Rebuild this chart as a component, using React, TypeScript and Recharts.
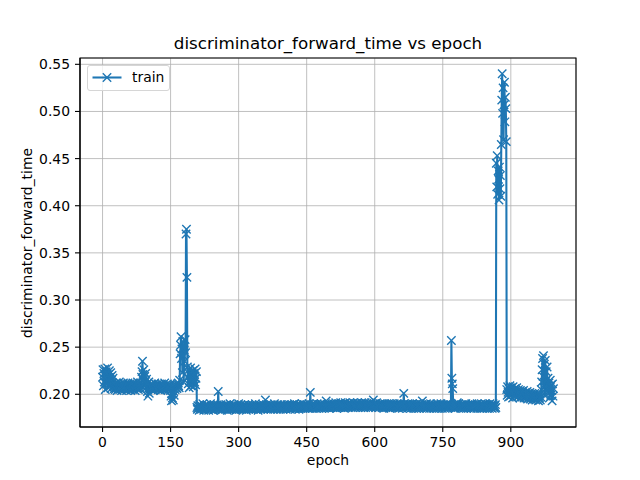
import { LineChart, Line, XAxis, YAxis, CartesianGrid, ReferenceArea } from "recharts";

// discriminator forward time per epoch in chunks
const warmup = [
  0.218, 0.226, 0.209, 0.222, 0.213, 0.227, 0.205, 0.219, 0.224, 0.211, 0.216, 0.228, 0.207,
  0.221, 0.214, 0.225, 0.21, 0.218, 0.223, 0.206, 0.215, 0.22, 0.212, 0.217, 0.209,
];
const earlyBand = [
  0.208, 0.206, 0.211, 0.205, 0.209, 0.207, 0.212, 0.204, 0.208, 0.21, 0.206, 0.209, 0.213, 0.205, 0.207, 0.211, 0.208, 0.204, 0.21, 0.206,
  0.209, 0.212, 0.207, 0.205, 0.208, 0.211, 0.206, 0.209, 0.204, 0.21, 0.207, 0.212, 0.205, 0.208, 0.206, 0.211, 0.209, 0.204, 0.207, 0.21,
  0.208, 0.205, 0.212, 0.206, 0.209, 0.207, 0.211, 0.204, 0.208, 0.21, 0.206, 0.209, 0.213, 0.207, 0.205, 0.21, 0.208, 0.211, 0.206, 0.209,
];
const bump90 = [
  0.212, 0.218, 0.224, 0.235, 0.221, 0.215, 0.226, 0.209, 0.219, 0.213, 0.222, 0.207, 0.216, 0.211, 0.203, 0.198, 0.206, 0.213, 0.201, 0.208,
];
const midBand = [
  0.207, 0.209, 0.205, 0.211, 0.208, 0.206, 0.21, 0.204, 0.209, 0.207, 0.212, 0.205, 0.208, 0.21, 0.206, 0.209, 0.207, 0.211, 0.205, 0.208,
  0.21, 0.206, 0.209, 0.204, 0.208, 0.211, 0.207, 0.205, 0.21, 0.208, 0.206, 0.209, 0.212, 0.205, 0.207, 0.21, 0.208, 0.206, 0.211, 0.209,
  0.205, 0.208, 0.207, 0.21, 0.206,
];
const dip150 = [
  0.204, 0.198, 0.193, 0.201, 0.196, 0.206, 0.194, 0.203, 0.199, 0.208, 0.205, 0.21, 0.207, 0.209, 0.206, 0.211, 0.208, 0.212, 0.209, 0.207,
];
const spike185 = [
  0.215, 0.243, 0.252, 0.261, 0.238, 0.248, 0.223, 0.256, 0.241, 0.213, 0.247, 0.235, 0.258, 0.244, 0.37, 0.375, 0.324, 0.229,
];
const after185 = [
  0.218, 0.211, 0.226, 0.207, 0.221, 0.214, 0.228, 0.209, 0.223, 0.216, 0.212, 0.225, 0.208, 0.219, 0.222, 0.213, 0.227, 0.21, 0.217, 0.224,
];
const steady1 = [
  0.186, 0.184, 0.188, 0.185, 0.187, 0.183, 0.189, 0.186, 0.185, 0.188, 0.184, 0.187, 0.186, 0.19, 0.185, 0.183, 0.187, 0.188, 0.184, 0.186,
  0.187, 0.185, 0.189, 0.184, 0.186, 0.188, 0.183, 0.187, 0.185, 0.186, 0.19, 0.184, 0.187, 0.185, 0.188, 0.186, 0.183, 0.189, 0.185, 0.187,
  0.184, 0.186, 0.188, 0.185, 0.187, 0.189, 0.186, 0.203, 0.188, 0.184, 0.186, 0.187, 0.185, 0.189, 0.183, 0.186, 0.188, 0.184, 0.187, 0.185,
  0.186, 0.188, 0.184, 0.187, 0.185, 0.189, 0.186, 0.183, 0.188, 0.185, 0.187, 0.184, 0.186, 0.19, 0.185, 0.187, 0.184, 0.188, 0.186, 0.185,
  0.187, 0.184, 0.189, 0.186, 0.185, 0.188, 0.183, 0.187, 0.186, 0.184, 0.188, 0.185, 0.19, 0.186, 0.184, 0.187, 0.185, 0.189, 0.186, 0.184,
];
const steady2 = [
  0.186, 0.188, 0.185, 0.187, 0.184, 0.189, 0.186, 0.185, 0.188, 0.183, 0.187, 0.186, 0.185, 0.189, 0.184, 0.187, 0.186, 0.188, 0.185, 0.184,
  0.187, 0.185, 0.189, 0.186, 0.184, 0.188, 0.186, 0.185, 0.187, 0.19, 0.184, 0.186, 0.188, 0.185, 0.187, 0.183, 0.186, 0.189, 0.185, 0.187,
  0.186, 0.184, 0.188, 0.185, 0.187, 0.186, 0.189, 0.184, 0.186, 0.188, 0.185, 0.194, 0.187, 0.185, 0.189, 0.186, 0.184, 0.188, 0.186, 0.187,
  0.185, 0.188, 0.186, 0.184, 0.189, 0.187, 0.185, 0.186, 0.188, 0.184, 0.187, 0.19, 0.185, 0.186, 0.188, 0.185, 0.187, 0.184, 0.189, 0.186,
  0.187, 0.185, 0.188, 0.186, 0.184, 0.189, 0.187, 0.185, 0.186, 0.188, 0.184, 0.187, 0.189, 0.186, 0.185, 0.188, 0.186, 0.184, 0.187, 0.189,
];
const steady3 = [
  0.186, 0.188, 0.185, 0.187, 0.189, 0.186, 0.184, 0.188, 0.187, 0.185, 0.189, 0.186, 0.188, 0.185, 0.187, 0.19, 0.186, 0.184, 0.188, 0.187,
  0.185, 0.189, 0.187, 0.186, 0.188, 0.184, 0.187, 0.189, 0.186, 0.185, 0.188, 0.187, 0.19, 0.186, 0.185, 0.188, 0.187, 0.189, 0.185, 0.186,
  0.188, 0.186, 0.189, 0.187, 0.185, 0.188, 0.186, 0.19, 0.187, 0.185, 0.202, 0.188, 0.186, 0.189, 0.187, 0.185, 0.188, 0.19, 0.186, 0.187,
  0.189, 0.186, 0.188, 0.185, 0.187, 0.19, 0.186, 0.188, 0.187, 0.185, 0.189, 0.187, 0.186, 0.188, 0.19, 0.185, 0.187, 0.189, 0.186, 0.188,
  0.187, 0.185, 0.189, 0.188, 0.186, 0.193, 0.187, 0.189, 0.186, 0.188, 0.19, 0.187, 0.185, 0.189, 0.188, 0.186, 0.187, 0.19, 0.188, 0.186,
];
const steady4 = [
  0.188, 0.19, 0.187, 0.186, 0.189, 0.188, 0.191, 0.187, 0.185, 0.189, 0.188, 0.186, 0.19, 0.187, 0.189, 0.188, 0.186, 0.191, 0.187, 0.189,
  0.188, 0.186, 0.19, 0.187, 0.189, 0.185, 0.188, 0.191, 0.187, 0.186, 0.189, 0.188, 0.19, 0.187, 0.186, 0.189, 0.188, 0.191, 0.187, 0.188,
  0.19, 0.187, 0.189, 0.186, 0.188, 0.191, 0.187, 0.189, 0.188, 0.186, 0.19, 0.188, 0.187, 0.189, 0.191, 0.186, 0.188, 0.19, 0.187, 0.189,
  0.188, 0.186, 0.189, 0.191, 0.187, 0.188, 0.19, 0.186, 0.189, 0.187, 0.188, 0.191, 0.186, 0.189, 0.188, 0.19, 0.187, 0.189, 0.186, 0.188,
  0.19, 0.187, 0.189, 0.188, 0.186, 0.191, 0.188, 0.187, 0.189, 0.194, 0.188, 0.19, 0.187, 0.189, 0.186, 0.188, 0.191, 0.187, 0.189, 0.188,
];
const steady5 = [
  0.187, 0.189, 0.186, 0.188, 0.19, 0.187, 0.189, 0.188, 0.186, 0.19, 0.187, 0.189, 0.185, 0.188, 0.19, 0.187, 0.186, 0.189, 0.188, 0.187,
  0.189, 0.186, 0.188, 0.19, 0.187, 0.185, 0.189, 0.188, 0.186, 0.19, 0.187, 0.188, 0.186, 0.189, 0.187, 0.19, 0.188, 0.186, 0.189, 0.187,
  0.188, 0.186, 0.19, 0.187, 0.189, 0.185, 0.188, 0.187, 0.19, 0.186, 0.189, 0.188, 0.187, 0.185, 0.189, 0.188, 0.201, 0.19, 0.187, 0.188,
  0.186, 0.189, 0.187, 0.188, 0.185, 0.19, 0.187, 0.189, 0.186, 0.188, 0.187, 0.185, 0.189, 0.188, 0.186, 0.19, 0.187, 0.188, 0.185, 0.189,
  0.187, 0.186, 0.189, 0.188, 0.185, 0.19, 0.187, 0.186, 0.188, 0.189, 0.185, 0.187, 0.19, 0.186, 0.188, 0.187, 0.189, 0.193, 0.186, 0.188,
];
const steady6 = [
  0.187, 0.185, 0.189, 0.188, 0.186, 0.187, 0.19, 0.185, 0.188, 0.187, 0.186, 0.189, 0.188, 0.185, 0.187, 0.19, 0.186, 0.188, 0.187, 0.189,
  0.186, 0.188, 0.185, 0.187, 0.189, 0.186, 0.188, 0.187, 0.185, 0.19, 0.187, 0.186, 0.188, 0.189, 0.185, 0.187, 0.188, 0.186, 0.19, 0.187,
  0.188, 0.185, 0.187, 0.189, 0.186, 0.188, 0.187, 0.185, 0.189, 0.188, 0.186, 0.187, 0.19, 0.185, 0.188, 0.187, 0.186, 0.189, 0.188, 0.187,
  0.189, 0.257, 0.217, 0.211, 0.206, 0.188, 0.186, 0.189, 0.187, 0.185, 0.188, 0.187, 0.186, 0.189, 0.191, 0.188, 0.186, 0.19, 0.187, 0.188,
  0.186, 0.188, 0.185, 0.187, 0.189, 0.186, 0.188, 0.187, 0.185, 0.189, 0.188, 0.186, 0.187, 0.19, 0.185, 0.188, 0.187, 0.186, 0.189, 0.187,
  0.188, 0.186, 0.189, 0.187, 0.185, 0.188, 0.19, 0.186, 0.187, 0.189, 0.188, 0.185, 0.187, 0.186, 0.189, 0.188, 0.187, 0.185, 0.19, 0.187,
  0.186, 0.188, 0.187, 0.189, 0.185, 0.188, 0.186, 0.19, 0.187, 0.188, 0.185, 0.189, 0.187, 0.186, 0.188, 0.19, 0.186, 0.187, 0.189, 0.185,
  0.188, 0.187, 0.186, 0.189, 0.188, 0.185, 0.19, 0.187, 0.186, 0.188, 0.189, 0.185, 0.187, 0.19, 0.186, 0.188, 0.187, 0.185, 0.189, 0.186,
];
const peakA = [0.445, 0.42, 0.453, 0.412, 0.437, 0.428, 0.406, 0.441, 0.418, 0.432, 0.41];
const peakB = [0.465, 0.512, 0.54, 0.498, 0.525, 0.47, 0.507, 0.531, 0.489, 0.515, 0.503, 0.468];
const lateBand = [
  0.205, 0.199, 0.208, 0.202, 0.197, 0.206, 0.201, 0.209, 0.198, 0.204, 0.207, 0.2, 0.203, 0.196, 0.208, 0.202, 0.205, 0.199, 0.206, 0.201,
  0.204, 0.198, 0.207, 0.201, 0.197, 0.203, 0.205, 0.199, 0.202, 0.196, 0.204, 0.2, 0.198, 0.203, 0.197, 0.201, 0.199, 0.204, 0.196, 0.2,
  0.198, 0.202, 0.196, 0.2, 0.197, 0.203, 0.195, 0.199, 0.201, 0.196, 0.198, 0.202, 0.195, 0.199, 0.197, 0.201, 0.194, 0.198, 0.2, 0.196,
  0.199, 0.195, 0.201, 0.197, 0.194, 0.198, 0.2, 0.195, 0.197, 0.199, 0.193, 0.198, 0.196, 0.2, 0.194,
];
const tail = [
  0.197, 0.205, 0.213, 0.226, 0.238, 0.219, 0.241, 0.207, 0.232, 0.199, 0.236, 0.214, 0.224, 0.203, 0.229,
  0.21, 0.217, 0.201, 0.212, 0.196, 0.208, 0.215, 0.199, 0.21, 0.204, 0.193, 0.211, 0.198, 0.206,
];

const trainTime = [
  ...warmup, ...earlyBand, ...bump90, ...midBand, ...dip150, ...spike185, ...after185,
  ...steady1, ...steady2, ...steady3, ...steady4, ...steady5, ...steady6,
  ...peakA, ...peakB, ...lateBand, ...tail,
];

const xTicks = [0, 150, 300, 450, 600, 750, 900];
const yTicks = [0.2, 0.25, 0.3, 0.35, 0.4, 0.45, 0.5, 0.55];

const data = trainTime.map((v, i) => ({ epoch: i, train: v }));

const BLUE = "#1f77b4";
const FONT = "'DejaVu Sans', sans-serif";
const X_DOMAIN = [-49.7, 1043.7];
const Y_DOMAIN = [0.1653, 0.5567];

function Cross(props: any) {
  const { cx, cy, index } = props;
  if (cx == null || cy == null) return <g key={index} />;
  const r = 4.2;
  return (
    <path
      key={index}
      d={`M${cx - r},${cy - r}L${cx + r},${cy + r}M${cx - r},${cy + r}L${cx + r},${cy - r}`}
      stroke={BLUE}
      strokeWidth={1.4}
      fill="none"
    />
  );
}

export default function App() {
  const tickStyle = { fontSize: 13.9, fill: "#000", fontFamily: FONT };
  return (
    <div style={{ position: "absolute", left: 0, top: 0, width: 640, height: 480, background: "#fff", fontFamily: FONT }}>
      <LineChart width={640} height={480} data={data} margin={{ top: 58, right: 64, bottom: 23, left: 20 }}>
        <CartesianGrid stroke="#b0b0b0" strokeWidth={0.8} />
        <XAxis
          dataKey="epoch"
          type="number"
          domain={X_DOMAIN}
          ticks={xTicks}
          allowDataOverflow
          height={30}
          tick={tickStyle}
          tickSize={5}
          tickMargin={5}
          tickLine={{ stroke: "#000", strokeWidth: 1.1 }}
          axisLine={{ stroke: "#000", strokeWidth: 1.1 }}
        />
        <YAxis
          type="number"
          domain={Y_DOMAIN}
          ticks={yTicks}
          allowDataOverflow
          width={60}
          tick={tickStyle}
          tickSize={5}
          tickMargin={5}
          tickFormatter={(v: number) => v.toFixed(2)}
          tickLine={{ stroke: "#000", strokeWidth: 1.1 }}
          axisLine={{ stroke: "#000", strokeWidth: 1.1 }}
        />
        <ReferenceArea
          x1={X_DOMAIN[0]}
          x2={X_DOMAIN[1]}
          y1={Y_DOMAIN[0]}
          y2={Y_DOMAIN[1]}
          fill="none"
          fillOpacity={0}
          stroke="#000"
          strokeWidth={1.1}
        />
        <Line
          type="linear"
          dataKey="train"
          stroke={BLUE}
          strokeWidth={2.08}
          dot={(p: any) => <Cross {...p} key={p.index} />}
          activeDot={false}
          isAnimationActive={false}
        />
      </LineChart>

      <div style={{ position: "absolute", left: 0, width: 656, top: 33, textAlign: "center", fontSize: 16.7, color: "#000" }}>
        discriminator_forward_time vs epoch
      </div>
      <div style={{ position: "absolute", left: 0, width: 656, top: 452, textAlign: "center", fontSize: 13.9, color: "#000" }}>
        epoch
      </div>
      <div
        style={{
          position: "absolute",
          left: 27,
          top: 242.5,
          transform: "translate(-50%, -50%) rotate(-90deg)",
          whiteSpace: "nowrap",
          fontSize: 13.9,
          color: "#000",
        }}
      >
        discriminator_forward_time
      </div>

      <div
        style={{
          position: "absolute",
          left: 87,
          top: 65,
          width: 81,
          height: 24,
          border: "1px solid #d6d6d6",
          borderRadius: 3,
          background: "rgba(255,255,255,0.8)",
        }}
      >
        <svg width={40} height={24} style={{ position: "absolute", left: 4, top: 0 }}>
          <line x1={0.5} y1={11.5} x2={29.5} y2={11.5} stroke={BLUE} strokeWidth={2.08} />
          <path d="M10.8,7.3L19.2,15.7M10.8,15.7L19.2,7.3" stroke={BLUE} strokeWidth={1.4} fill="none" />
        </svg>
        <span style={{ position: "absolute", left: 44, top: 3, fontSize: 13.9, color: "#000" }}>train</span>
      </div>
    </div>
  );
}
